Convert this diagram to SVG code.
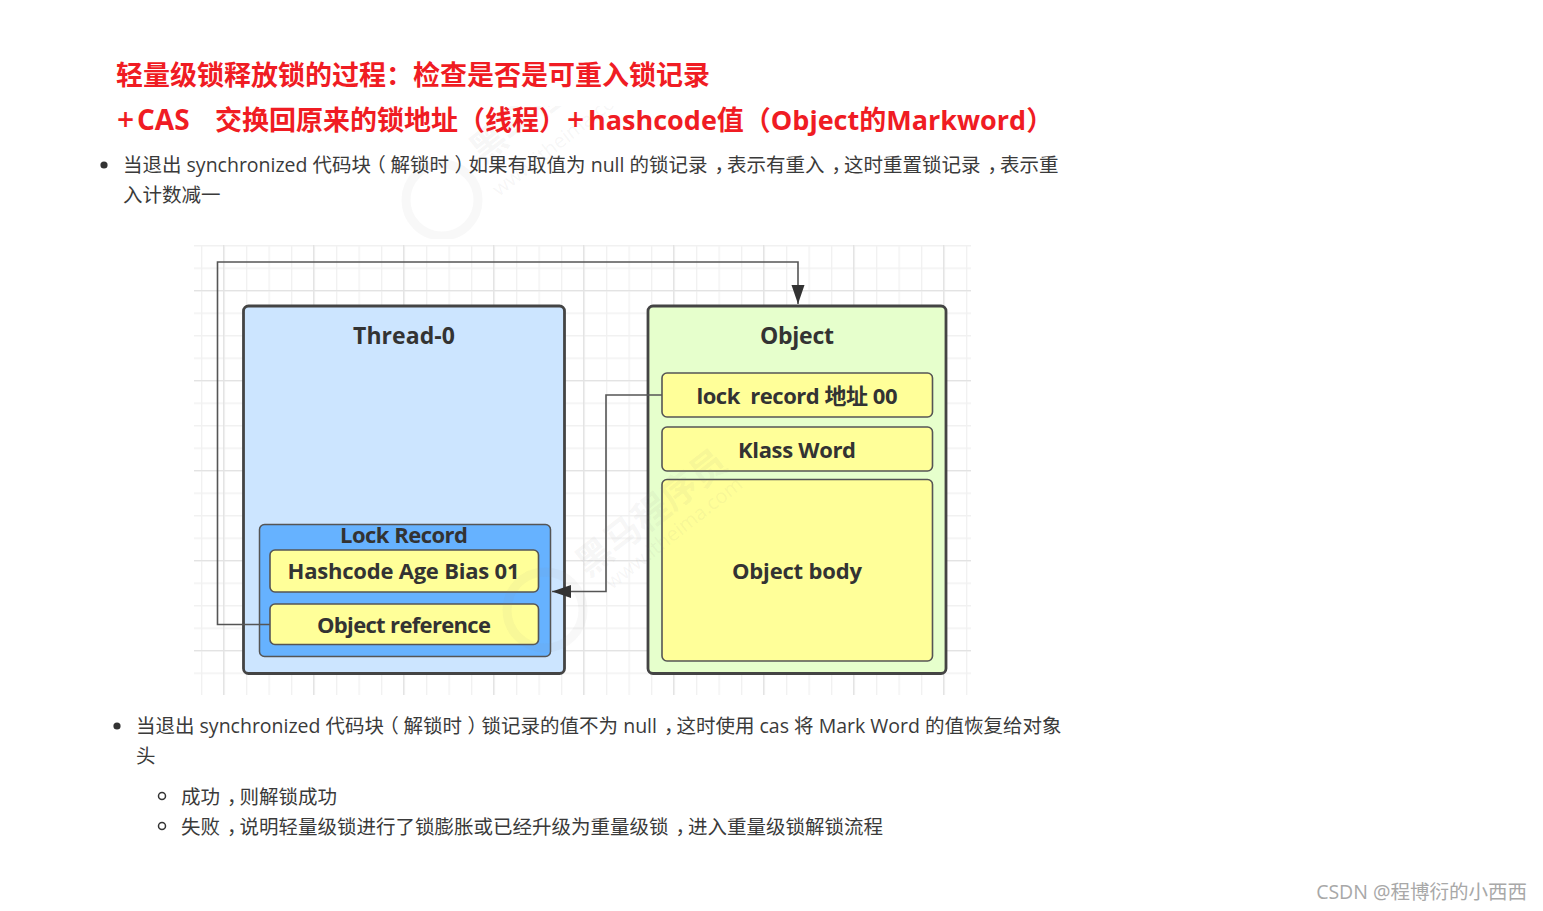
<svg xmlns="http://www.w3.org/2000/svg" width="1543" height="911" viewBox="0 0 1543 911">
<style>
.h{font-family:"Open Sans","Noto Sans CJK SC",sans-serif;font-weight:700;font-size:27px;fill:#f01c23}
.pl{font-size:30px;font-weight:600}
.b{font-family:"Open Sans","Noto Sans CJK SC",sans-serif;font-size:19.5px;fill:#3a3a3a}
.q{font-feature-settings:"halt" 1}
.n{font-family:"Open Sans","Noto Sans CJK SC",sans-serif;font-weight:700;font-size:22px;fill:#333;text-anchor:middle}
.t{font-size:23px}
.box{stroke:#555;stroke-width:1.6;fill:#ffff99}
.outer{stroke:#444;stroke-width:2.8}
.c{fill:none;stroke:#555;stroke-width:1.6}
.gm{stroke:#f1f1f1;stroke-width:1.3}
.gj{stroke:#e3e3e3;stroke-width:1.3}
.w1{font-family:"Noto Sans CJK SC",sans-serif;font-weight:700;font-size:36px;fill:#888;fill-opacity:.08}
.w2{font-family:"Open Sans",sans-serif;font-size:20px;fill:#888;fill-opacity:.08}
.wc{fill:none;stroke:#888;stroke-opacity:.06;stroke-width:9}
</style>
<defs>
<pattern id="gmv" width="22.5" height="450" patternUnits="userSpaceOnUse" x="201" y="245"><line class="gm" x1="0.7" y1="0" x2="0.7" y2="450"/></pattern>
<pattern id="gmh" width="777" height="22.5" patternUnits="userSpaceOnUse" x="194" y="245"><line class="gm" x1="0" y1="0.7" x2="777" y2="0.7"/></pattern>
<pattern id="gjv" width="90" height="450" patternUnits="userSpaceOnUse" x="223" y="245"><line class="gj" x1="0.7" y1="0" x2="0.7" y2="450"/></pattern>
<pattern id="gjh" width="777" height="90" patternUnits="userSpaceOnUse" x="194" y="290"><line class="gj" x1="0" y1="0.7" x2="777" y2="0.7"/></pattern>
<marker id="a" markerUnits="userSpaceOnUse" markerWidth="20" markerHeight="14" refX="19" refY="7" orient="auto"><path d="M0 0.500L19 7L0 13.500Z" fill="#333"/></marker>
<clipPath id="top"><rect x="380" y="106" width="300" height="133"/></clipPath>
</defs>
<rect width="1543" height="911" fill="#fff"/>
<g id="grid"><rect x="194" y="245" width="777" height="450" fill="url(#gmv)"/><rect x="194" y="245" width="777" height="450" fill="url(#gmh)"/><rect x="194" y="245" width="777" height="450" fill="url(#gjv)"/><rect x="194" y="245" width="777" height="450" fill="url(#gjh)"/></g>
<g id="thread"><rect class="outer" x="243.500" y="306" width="321" height="367.500" rx="5" fill="#cce5ff"/><text class="n t" x="404" y="343.500" textLength="102">Thread-0</text></g>
<g id="object"><rect class="outer" x="648" y="306" width="298" height="367.500" rx="5" fill="#e6ffcc"/><text class="n t" x="797" y="343.500" textLength="74">Object</text></g>
<g id="lockrecord"><rect x="259.500" y="524.500" width="291" height="132" rx="5" fill="#66b2ff" stroke="#555" stroke-width="1.500"/><text class="n" x="404" y="543" textLength="128">Lock Record</text></g>
<g id="hashcode"><rect class="box" x="270" y="550" width="268.500" height="42" rx="5"/><text class="n" x="403.500" y="579" textLength="232">Hashcode Age Bias 01</text></g>
<g id="objref"><rect class="box" x="270" y="604" width="268.500" height="40.500" rx="5"/><text class="n" x="404" y="633" textLength="174">Object reference</text></g>
<g id="lockaddr"><rect class="box" x="662" y="373" width="270.500" height="44" rx="5"/><text class="n" x="797" y="404" xml:space="preserve" textLength="201">lock  record 地址 00</text></g>
<g id="klass"><rect class="box" x="662" y="427" width="270.500" height="44" rx="5"/><text class="n" x="797" y="458" textLength="118">Klass Word</text></g>
<g id="body"><rect class="box" x="662" y="479.500" width="270.500" height="181.500" rx="5"/><text class="n" x="797" y="579" textLength="130">Object body</text></g>
<g id="connectors">
<path class="c" d="M270 624.500H217.500V262H798V304" marker-end="url(#a)"/>
<path class="c" d="M662 395H606V591.500H552" marker-end="url(#a)"/>
</g>
<g id="watermarks">
<g clip-path="url(#top)"><circle class="wc" cx="442" cy="200" r="36"/><text class="w1" transform="translate(482 165) rotate(-38)">黑马程序员</text><text class="w2" transform="translate(499 197) rotate(-38)">www.itheima.com</text></g>
<circle class="wc" cx="545" cy="610" r="38"/>
<text class="w1" transform="translate(588 578) rotate(-38)">黑马程序员</text>
<text class="w2" transform="translate(612 590) rotate(-38)">www.itheima.com</text>
</g>
<g id="title"><text class="h" x="116" y="85">轻量级锁释放锁的过程&#xFF1A;检查是否是可重入锁记录</text><text class="h" y="130"><tspan class="pl" x="117">+</tspan><tspan x="137" style="font-size:28px">CAS</tspan><tspan x="215">交换回原来的锁地址&#xFF08;线程&#xFF09;</tspan><tspan class="pl" x="567">+</tspan><tspan x="588">hashcode值&#xFF08;Object的Markword&#xFF09;</tspan></text></g>
<g id="para1"><circle cx="104" cy="165" r="3.600" fill="#333"/><text class="b" x="123" y="172">当退出 synchronized 代码块<tspan class="q" dx="5">&#xFF08;</tspan><tspan dx="4.750">解锁时</tspan><tspan class="q" dx="5.500">&#xFF09;</tspan><tspan dx="4.250">如果有取值为 null 的锁记录</tspan><tspan class="q" dx="7">&#xFF0C;</tspan><tspan dx="2.750">表示有重入</tspan><tspan class="q" dx="7">&#xFF0C;</tspan><tspan dx="2.750">这时重置锁记录</tspan><tspan class="q" dx="7">&#xFF0C;</tspan><tspan dx="2.750">表示重</tspan></text><text class="b" x="123" y="202">入计数减一</text></g>
<g id="para2"><circle cx="117" cy="726" r="3.600" fill="#333"/><text class="b" x="136" y="733">当退出 synchronized 代码块<tspan class="q" dx="5">&#xFF08;</tspan><tspan dx="4.750">解锁时</tspan><tspan class="q" dx="5.500">&#xFF09;</tspan><tspan dx="4.250">锁记录的值不为 null</tspan><tspan class="q" dx="7">&#xFF0C;</tspan><tspan dx="2.750">这时使用 cas 将 Mark Word 的值恢复给对象</tspan></text><text class="b" x="136" y="763">头</text>
<circle cx="162" cy="796" r="3.500" fill="none" stroke="#333" stroke-width="1.500"/><text class="b" x="181" y="804">成功<tspan class="q" dx="7">&#xFF0C;</tspan><tspan dx="2.750">则解锁成功</tspan></text>
<circle cx="162" cy="826" r="3.500" fill="none" stroke="#333" stroke-width="1.500"/><text class="b" x="181" y="834">失败<tspan class="q" dx="7">&#xFF0C;</tspan><tspan dx="2.750">说明轻量级锁进行了锁膨胀或已经升级为重量级锁</tspan><tspan class="q" dx="7">&#xFF0C;</tspan><tspan dx="2.750">进入重量级锁解锁流程</tspan></text></g>
<g id="footer"><text x="1527" y="899" text-anchor="end" font-family="'Open Sans','Noto Sans CJK SC',sans-serif" font-size="19.500" fill="#a8a8a8">CSDN @程博衍的小西西</text></g>
</svg>
